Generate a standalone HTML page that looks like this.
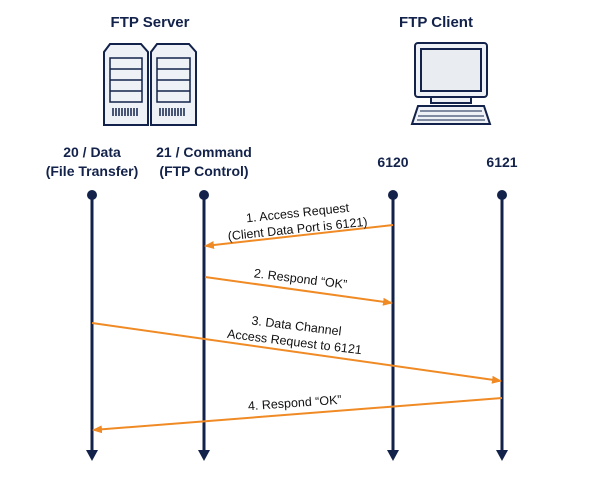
<!DOCTYPE html>
<html><head><meta charset="utf-8"><style>
html,body{margin:0;padding:0;background:#fff;}
svg{display:block;}
text{font-family:"Liberation Sans",sans-serif;}
</style></head><body>
<svg width="600" height="480" viewBox="0 0 600 480" xmlns="http://www.w3.org/2000/svg">
<defs>
<marker id="oa" markerWidth="10" markerHeight="8" refX="9" refY="4" orient="auto" markerUnits="userSpaceOnUse"><path d="M0,0 L10,4 L0,8 z" fill="#f08a24"/></marker>
</defs>
<g fill="#13224a" font-weight="bold" font-size="15" text-anchor="middle">
<text x="150" y="27">FTP Server</text>
<text x="436" y="27">FTP Client</text>
<text x="92" y="157" font-size="14">20 / Data</text>
<text x="92" y="176" font-size="14">(File Transfer)</text>
<text x="204" y="157" font-size="14">21 / Command</text>
<text x="204" y="176" font-size="14">(FTP Control)</text>
<text x="393" y="167" font-size="14">6120</text>
<text x="502" y="167" font-size="14">6121</text>
</g>
<!-- servers -->
<g stroke="#13224a" stroke-width="2" fill="#eef1f6">
<path d="M104,52 L110,44 L141,44 L148,52 L148,125 L104,125 z"/>
<path d="M151,52 L157,44 L189,44 L196,52 L196,125 L151,125 z"/>
</g>
<g fill="none" stroke="#13224a" stroke-width="1.5">
<rect x="110" y="58" width="32" height="44"/><rect x="157" y="58" width="33" height="44"/>
<path d="M110,69H142M110,80H142M110,91H142M157,69H190M157,80H190M157,91H190"/>
<path d="M113,108v8M116,108v8M119,108v8M122,108v8M125,108v8M128,108v8M131,108v8M134,108v8M137,108v8M160,108v8M163,108v8M166,108v8M169,108v8M172,108v8M175,108v8M178,108v8M181,108v8M184,108v8"/>
</g>
<!-- client -->
<g stroke="#13224a" stroke-width="2" fill="#eef1f6">
<rect x="415" y="43" width="72" height="54" rx="3"/>
<rect x="421" y="49" width="60" height="42" fill="#e9ecf1"/>
<rect x="431" y="97" width="40" height="6"/>
<path d="M418,106 L484,106 L490,124 L412,124 z"/>
</g>
<g stroke="#13224a" stroke-width="1" fill="none"><path d="M420,111H482M418,116H484M417,120H485"/></g>
<!-- lifelines -->
<g stroke="#13224a" stroke-width="3">
<line x1="92" y1="195" x2="92" y2="452"/>
<line x1="204" y1="195" x2="204" y2="452"/>
<line x1="393" y1="195" x2="393" y2="452"/>
<line x1="502" y1="195" x2="502" y2="452"/>
</g>
<g fill="#13224a">
<path d="M86,450 L98,450 L92,461 z"/>
<path d="M198,450 L210,450 L204,461 z"/>
<path d="M387,450 L399,450 L393,461 z"/>
<path d="M496,450 L508,450 L502,461 z"/>
<circle cx="92" cy="195" r="5"/><circle cx="204" cy="195" r="5"/><circle cx="393" cy="195" r="5"/><circle cx="502" cy="195" r="5"/></g>
<!-- messages -->
<g stroke="#f08a24" stroke-width="2" marker-end="url(#oa)">
<line x1="393" y1="225" x2="205" y2="246"/>
<line x1="205" y1="277" x2="392" y2="303"/>
<line x1="92" y1="323" x2="501" y2="381"/>
<line x1="502" y1="398" x2="93" y2="430"/>
</g>
<g fill="#111" font-size="12.5" text-anchor="middle">
<text transform="translate(298,217) rotate(-6)">1. Access Request</text>
<text transform="translate(298,233) rotate(-6)">(Client Data Port is 6121)</text>
<text transform="translate(300,283) rotate(7)">2. Respond “OK”</text>
<text transform="translate(296,330) rotate(7)">3. Data Channel</text>
<text transform="translate(294,346) rotate(7)">Access Request to 6121</text>
<text transform="translate(295,407) rotate(-4)">4. Respond “OK”</text>
</g>
</svg>
</body></html>
